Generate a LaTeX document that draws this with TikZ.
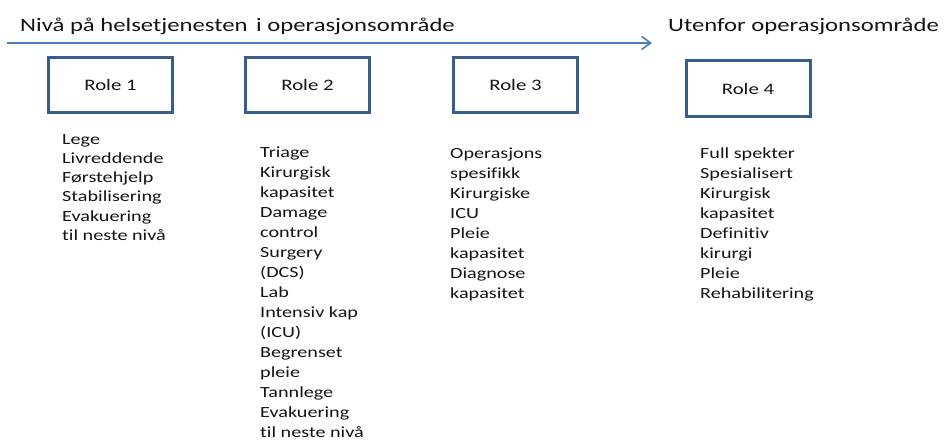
\documentclass[tikz,border=0pt]{standalone}
\usepackage{fontspec}
\setmainfont{Carlito}[FakeStretch=1.3, Ligatures=NoCommon]
\usetikzlibrary{arrows.meta}
\definecolor{arrowblue}{RGB}{74,126,187}
\definecolor{boxblue}{RGB}{56,93,138}
\definecolor{txt}{RGB}{20,20,20}
\tikzset{
  rolebox/.style={draw=boxblue, line width=3pt, minimum width=124pt, minimum height=55pt, inner sep=0pt, font=\fontsize{16}{19}\selectfont, text=txt},
  listtext/.style={anchor=base west, inner sep=0pt, text=txt},
  headtext/.style={anchor=base west, inner sep=0pt, font=\fontsize{19}{22}\selectfont, text=txt},
}
\newcommand{\rolelist}[2]{\parbox[t]{200pt}{\fontsize{15.5}{#1}\selectfont\raggedright #2}}
\begin{document}
\begin{tikzpicture}[x=1pt,y=-1pt]
\useasboundingbox (0,0) rectangle (945,444);
\node[headtext] (title) at (20,32) {Nivå på helsetjenesten\hspace{0.45em}i operasjonsområde};
\node[headtext] (outside) at (668,32) {Utenfor operasjonsområde};
\coordinate (arrowstart) at (7,43);
\coordinate (arrowend) at (652,43);
\draw[arrowblue, line width=1.6pt, -{Straight Barb[length=9pt,width=13pt,line width=1.6pt]}] (arrowstart) -- (arrowend);

\node[rolebox] (r1) at (110.5,85) {Role 1};
\node[rolebox] (r2) at (307.5,85) {Role 2};
\node[rolebox] (r3) at (515.5,85) {Role 3};
\node[rolebox] (r4) at (748,88.5) {Role 4};

\node[listtext] (l1) at (62,144) {\rolelist{19.3}{Lege\\Livreddende\\Førstehjelp\\Stabilisering\\Evakuering\\til neste nivå}};
\node[listtext] (l2) at (260,157) {\rolelist{20.07}{Triage\\Kirurgisk\\kapasitet\\Damage\\control\\Surgery\\(DCS)\\Lab\\Intensiv kap\\(ICU)\\Begrenset\\pleie\\Tannlege\\Evakuering\\til neste nivå}};
\node[listtext] (l3) at (450,158) {\rolelist{20}{Operasjons\\spesifikk\\Kirurgiske\\ICU\\Pleie\\kapasitet\\Diagnose\\kapasitet}};
\node[listtext] (l4) at (700,158) {\rolelist{20.1}{Full spekter\\Spesialisert\\Kirurgisk\\kapasitet\\Definitiv\\kirurgi\\Pleie\\Rehabilitering}};
\end{tikzpicture}
\end{document}
